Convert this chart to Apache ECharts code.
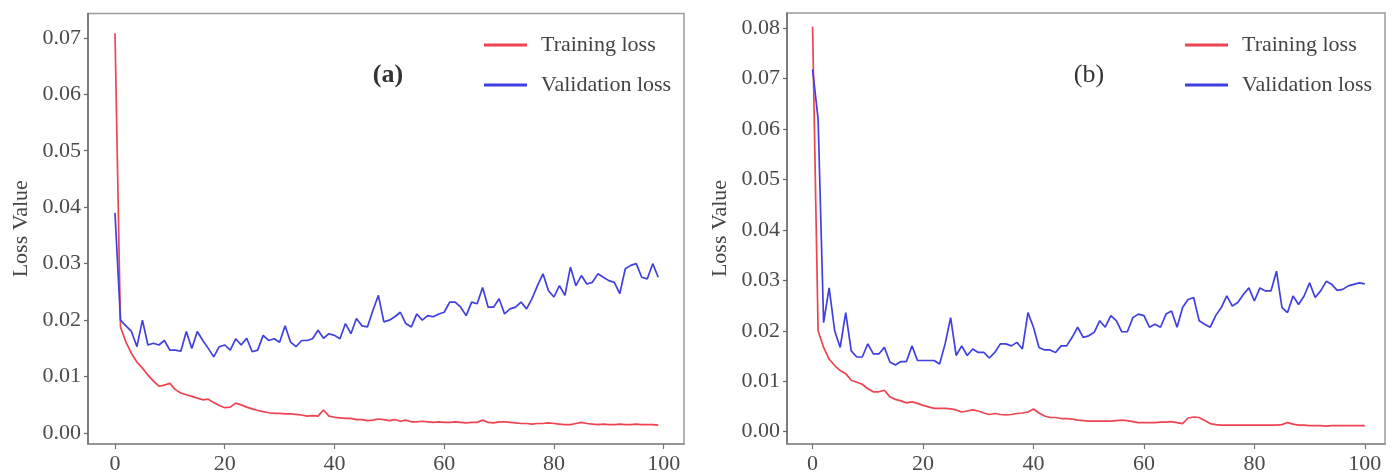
<!DOCTYPE html>
<html>
<head>
<meta charset="utf-8">
<script src="https://cdn.jsdelivr.net/npm/echarts@6/dist/echarts.min.js"></script>
<style>html,body{margin:0;padding:0;background:#fff}#c{width:1393px;height:475px}</style>
</head>
<body>
<div id="c"></div>
<script>
// ---- data ----
const trainA = [0.0708,0.0188,0.0161,0.0141,0.0126,0.0115,0.0103,0.0092,0.0083,0.0085,
0.0088,0.0077,0.0071,0.0068,0.0065,0.0062,0.0059,0.0060,0.0054,0.0049,
0.0045,0.0046,0.0053,0.0050,0.0046,0.0043,0.0040,0.0038,0.0036,0.0035,
0.0035,0.0034,0.0034,0.0033,0.0032,0.0030,0.0031,0.0030,0.0041,0.0030,
0.0028,0.0027,0.0026,0.0026,0.0024,0.0024,0.0022,0.0023,0.0025,0.0024,
0.0022,0.0024,0.0021,0.0023,0.0020,0.0020,0.0021,0.0020,0.0019,0.0020,
0.0019,0.0019,0.0020,0.0019,0.0018,0.0019,0.0019,0.0023,0.0019,0.0018,
0.0020,0.0020,0.0019,0.0018,0.0017,0.0017,0.0016,0.0017,0.0017,0.0018,
0.0017,0.0016,0.0015,0.0015,0.0017,0.0019,0.0017,0.0016,0.0015,0.0016,
0.0015,0.0015,0.0016,0.0015,0.0015,0.0016,0.0015,0.0015,0.0015,0.0014];
const valA = [0.0390,0.0200,0.0190,0.0180,0.0153,0.0200,0.0156,0.0159,0.0156,0.0164,
0.0147,0.0147,0.0145,0.0180,0.0150,0.0180,0.0164,0.0150,0.0135,0.0153,
0.0156,0.0147,0.0167,0.0156,0.0168,0.0144,0.0147,0.0173,0.0164,0.0167,
0.0161,0.0190,0.0161,0.0153,0.0164,0.0164,0.0167,0.0182,0.0168,0.0176,
0.0173,0.0167,0.0194,0.0176,0.0203,0.0190,0.0188,0.0217,0.0244,0.0197,
0.0200,0.0206,0.0214,0.0194,0.0188,0.0211,0.0200,0.0208,0.0206,0.0211,
0.0214,0.0232,0.0232,0.0223,0.0208,0.0232,0.0229,0.0258,0.0223,0.0223,
0.0238,0.0211,0.0220,0.0223,0.0232,0.0220,0.0238,0.0261,0.0282,0.0252,
0.0241,0.0261,0.0244,0.0294,0.0261,0.0279,0.0264,0.0267,0.0282,0.0276,
0.0270,0.0267,0.0247,0.0291,0.0297,0.0300,0.0276,0.0273,0.0300,0.0276];
const trainB = [0.0803,0.0200,0.0167,0.0144,0.0131,0.0121,0.0115,0.0102,0.0098,0.0094,
0.0085,0.0079,0.0079,0.0082,0.0069,0.0064,0.0061,0.0057,0.0059,0.0056,
0.0052,0.0049,0.0046,0.0046,0.0046,0.0045,0.0043,0.0039,0.0041,0.0043,
0.0041,0.0037,0.0034,0.0036,0.0034,0.0033,0.0034,0.0036,0.0037,0.0039,
0.0045,0.0037,0.0031,0.0028,0.0028,0.0026,0.0026,0.0025,0.0023,0.0022,
0.0021,0.0021,0.0021,0.0021,0.0021,0.0022,0.0023,0.0022,0.0020,0.0018,
0.0018,0.0018,0.0018,0.0019,0.0019,0.0020,0.0018,0.0016,0.0027,0.0029,
0.0028,0.0022,0.0016,0.0014,0.0013,0.0013,0.0013,0.0013,0.0013,0.0013,
0.0013,0.0013,0.0013,0.0013,0.0013,0.0014,0.0018,0.0015,0.0013,0.0013,
0.0012,0.0012,0.0012,0.0011,0.0012,0.0012,0.0012,0.0012,0.0012,0.0012,
0.0012];
const valB = [0.0718,0.0620,0.0216,0.0285,0.0200,0.0167,0.0236,0.0160,0.0148,0.0148,
0.0174,0.0154,0.0154,0.0167,0.0138,0.0132,0.0139,0.0139,0.0170,0.0141,
0.0141,0.0141,0.0141,0.0134,0.0174,0.0226,0.0151,0.0170,0.0151,0.0164,
0.0157,0.0157,0.0146,0.0157,0.0174,0.0174,0.0170,0.0177,0.0164,0.0236,
0.0207,0.0167,0.0162,0.0162,0.0157,0.0170,0.0170,0.0187,0.0207,0.0187,
0.0190,0.0197,0.0220,0.0207,0.0230,0.0220,0.0198,0.0198,0.0226,0.0233,
0.0230,0.0207,0.0213,0.0207,0.0233,0.0239,0.0207,0.0246,0.0262,0.0266,
0.0220,0.0213,0.0207,0.0230,0.0246,0.0269,0.0249,0.0256,0.0272,0.0285,
0.0259,0.0285,0.0279,0.0279,0.0318,0.0246,0.0236,0.0269,0.0252,0.0269,
0.0295,0.0266,0.0279,0.0298,0.0292,0.0280,0.0282,0.0289,0.0292,0.0295,
0.0293];
const xTicks = [0, 20, 40, 60, 80, 100];
const yTicksA = [0, 0.01, 0.02, 0.03, 0.04, 0.05, 0.06, 0.07];
const yTicksB = [0, 0.01, 0.02, 0.03, 0.04, 0.05, 0.06, 0.07, 0.08];
const seriesNames = ['Training loss', 'Validation loss'];
const panelLabels = ['(a)', '(b)'];

const RED = '#ee4450', BLUE = '#3f3fe2';
const FONT = 'Liberation Serif';
const pairs = arr => arr.map((v, i) => [i, v]);

function xAxis(gi, min, max) {
  return {
    type: 'value', gridIndex: gi, min: min, max: max,
    axisLine: { show: true, onZero: false, lineStyle: { color: '#8a8a8a', width: 1.5 } },
    axisTick: { show: true, inside: false, length: 5, customValues: xTicks, lineStyle: { color: '#777', width: 1.2 } },
    axisLabel: { customValues: xTicks, margin: 9, fontFamily: FONT, fontSize: 22, color: '#4a4a4a' },
    splitLine: { show: false }
  };
}
function yAxis(gi, min, max, ticks, gap) {
  return {
    type: 'value', gridIndex: gi, min: min, max: max,
    name: 'Loss Value', nameLocation: 'middle', nameGap: gap,
    nameTextStyle: { fontFamily: FONT, fontSize: 22, color: '#444' },
    axisLine: { show: true, onZero: false, lineStyle: { color: '#6a6a6a', width: 1.5 } },
    axisTick: { show: true, inside: false, length: 4, customValues: ticks, lineStyle: { color: '#666', width: 1.2 } },
    axisLabel: { customValues: ticks, margin: 7, fontFamily: FONT, fontSize: 22, color: '#4a4a4a',
      formatter: v => v.toFixed(2) },
    splitLine: { show: false }
  };
}
function legend(left) {
  return {
    orient: 'vertical', left: left, top: 28, itemWidth: 43, itemHeight: 3, itemGap: 16,
    icon: 'rect',
    textStyle: { fontFamily: FONT, fontSize: 22, color: '#444', lineHeight: 24, padding: [0, 0, 0, 9] },
    data: seriesNames
  };
}
function line(name, data, color, xi, yi) {
  return {
    name: name, type: 'line', xAxisIndex: xi, yAxisIndex: yi, data: data,
    showSymbol: false, symbol: 'none', smooth: false,
    lineStyle: { color: color, width: 1.7 }, itemStyle: { color: color }
  };
}

const chart = echarts.init(document.getElementById('c'), null, { renderer: 'canvas' });
chart.setOption({
  backgroundColor: '#fff',
  animation: false,
  title: [
    { text: panelLabels[0], left: 383, top: 57, textAlign: 'center',
      textStyle: { fontFamily: FONT, fontSize: 26, fontWeight: 'bold', color: '#333' } },
    { text: panelLabels[1], left: 1084, top: 57, textAlign: 'center',
      textStyle: { fontFamily: FONT, fontSize: 26, fontWeight: 'normal', color: '#333' } }
  ],
  legend: [legend(479), legend(1180)],
  grid: [
    { left: 88, top: 13.5, width: 596, height: 434.5, show: true, borderColor: '#9a9a9a', borderWidth: 1.5, backgroundColor: 'transparent' },
    { left: 787, top: 13, width: 598, height: 436, show: true, borderColor: '#9a9a9a', borderWidth: 1.5, backgroundColor: 'transparent' }
  ],
  xAxis: [xAxis(0, -4.92, 103.7), xAxis(1, -4.63, 103.65)],
  yAxis: [yAxis(0, -0.00193, 0.0743, yTicksA, 56), yAxis(1, -0.00245, 0.0830, yTicksB, 56)],
  series: [
    line(seriesNames[0], pairs(trainA), RED, 0, 0),
    line(seriesNames[1], pairs(valA), BLUE, 0, 0),
    line(seriesNames[0], pairs(trainB), RED, 1, 1),
    line(seriesNames[1], pairs(valB), BLUE, 1, 1)
  ]
});
</script>
</body>
</html>
